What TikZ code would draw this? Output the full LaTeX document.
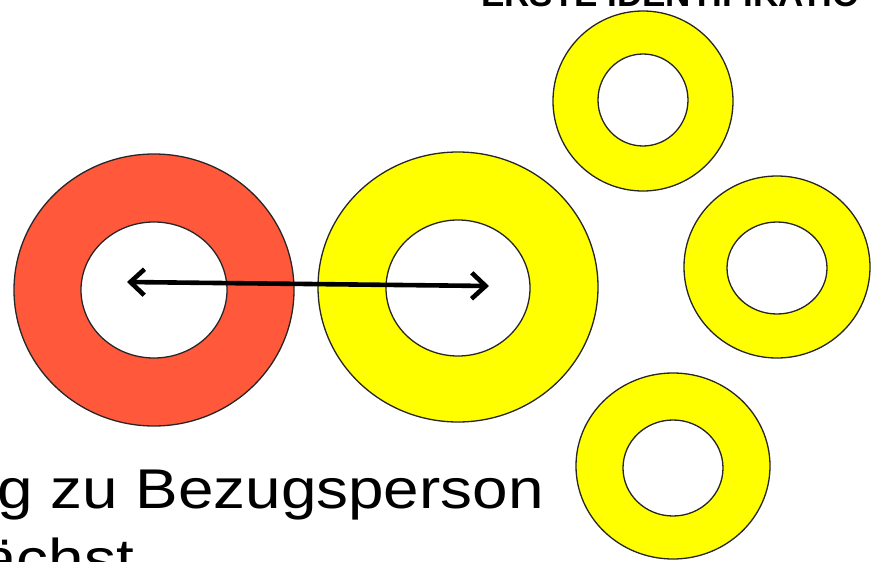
\documentclass[tikz,border=0pt]{standalone}
\usepackage{fontspec}
\setmainfont{Liberation Sans}
\usetikzlibrary{arrows.meta}
\definecolor{redring}{RGB}{255,88,58}
\definecolor{yellowring}{RGB}{255,255,0}
\begin{document}
\begin{tikzpicture}[x=1pt,y=-1pt,
  ring/.style={draw=black!85, line width=1.3pt},
  hole/.style={draw=black!85, line width=1.3pt, fill=white},
  barb/.tip={Straight Barb[length=14pt,width=26pt,line width=4.6pt]},
  arr/.style={line width=4.6pt, line cap=round, barb-barb},
  bodytext/.style={inner sep=0pt, xscale=1.14, font=\fontsize{56}{67}\selectfont},
  titletext/.style={inner sep=0pt, font=\fontsize{35}{40}\selectfont\bfseries}]
\useasboundingbox (0,0) rectangle (871,562);
\clip (0,0) rectangle (871,562);
\fill[white] (0,0) rectangle (871,562);
% title (cut at top)
\node[titletext, anchor=base west] (title) at (481,6) {ERSTE IDENTIFIKATIO};
% red ring
\path[ring, fill=redring] (154,290) ellipse [x radius=140, y radius=136];
\path[hole] (154,290) ellipse [x radius=73, y radius=68];
% big yellow ring
\path[ring, fill=yellowring] (458,287) ellipse [x radius=140, y radius=135];
\path[hole] (458,288) ellipse [x radius=72, y radius=68];
% top ring
\path[ring, fill=yellowring] (643,101) ellipse [x radius=90, y radius=90];
\path[hole] (643,100) ellipse [x radius=45, y radius=46];
% right ring
\path[ring, fill=yellowring] (777,267) ellipse [x radius=93, y radius=91];
\path[hole] (777,268) ellipse [x radius=50, y radius=46];
% bottom ring
\path[ring, fill=yellowring] (673,466) ellipse [x radius=97, y radius=93];
\path[hole] (673,468) ellipse [x radius=50, y radius=48];
% arrow
\coordinate (aL) at (127,282);
\coordinate (aR) at (489,286);
\draw[arr] (aL) -- (aR);
% body text (cut at left and bottom)
\node[bodytext, anchor=base east] (line1) at (544,508) {g zu Bezugsperson};
\node[bodytext, anchor=base east] (line2) at (134,578) {ächst};
\end{tikzpicture}
\end{document}
